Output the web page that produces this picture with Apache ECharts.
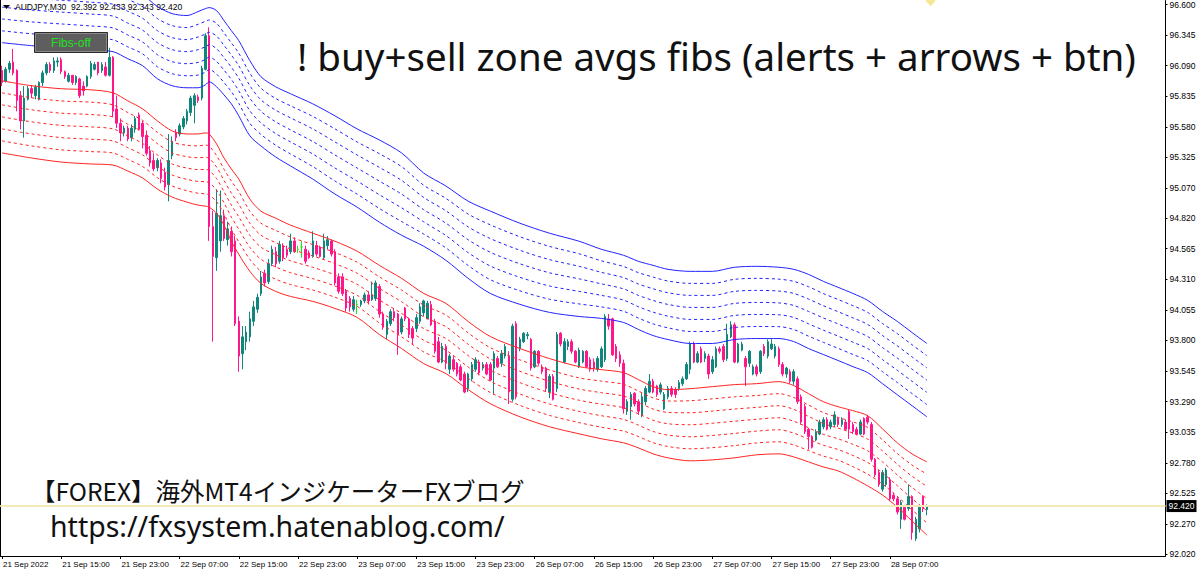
<!DOCTYPE html>
<html><head><meta charset="utf-8">
<script src="https://cdn.jsdelivr.net/npm/echarts@6/dist/echarts.min.js"></script>
<style>html,body{margin:0;padding:0;background:#fff;overflow:hidden}#c{width:1200px;height:574px}</style>
</head><body><div id="c"></div>
<script>
// ---------- data ----------
const timeLabels = ['21 Sep 2022','21 Sep 15:00','21 Sep 23:00','22 Sep 07:00','22 Sep 15:00','22 Sep 23:00','23 Sep 07:00','23 Sep 15:00','23 Sep 23:00','26 Sep 07:00','26 Sep 15:00','26 Sep 23:00','27 Sep 07:00','27 Sep 15:00','27 Sep 23:00','28 Sep 07:00'];
const priceTicks = [96.600,96.345,96.090,95.835,95.580,95.325,95.070,94.820,94.565,94.310,94.055,93.800,93.545,93.290,93.035,92.780,92.525,92.270,92.020];

const openP = [96.05,95.96,96.06,96.12,96.05,95.84,95.63,95.81,95.90,95.84,95.81,95.95,96.03,96.10,96.05,96.12,96.14,96.04,95.96,96.01,
95.95,95.98,95.92,95.92,96.00,96.06,96.12,96.05,96.08,96.01,96.16,95.73,95.61,95.53,95.57,95.49,95.56,95.68,95.61,95.51,
95.38,95.30,95.24,95.28,95.20,95.10,95.34,95.53,95.52,95.58,95.63,95.70,95.76,95.83,95.82,96.06,96.34,94.75,94.49,94.63,
94.84,94.64,94.71,94.63,93.96,93.69,93.79,93.83,93.96,94.06,94.19,94.36,94.29,94.44,94.54,94.46,94.59,94.56,94.54,94.63,
94.56,94.58,94.56,94.53,94.50,94.59,94.58,94.49,94.59,94.63,94.54,94.33,94.33,94.21,94.15,94.06,94.10,94.10,94.13,94.18,
94.14,94.15,94.25,94.02,93.85,93.94,94.04,94.02,93.87,94.07,93.98,93.90,93.90,93.96,94.03,93.98,94.10,93.96,93.79,93.62,
93.75,93.56,93.64,93.61,93.58,93.52,93.40,93.48,93.56,93.62,93.57,93.60,93.60,93.57,93.65,93.61,93.67,93.67,93.31,93.94,
93.73,93.79,93.84,93.81,93.58,93.71,93.58,93.57,93.37,93.50,93.40,93.86,93.62,93.75,93.79,93.71,93.58,93.62,93.71,93.64,
93.62,93.56,93.58,93.64,93.98,93.98,93.75,93.68,93.61,93.21,93.25,93.36,93.29,93.18,93.29,93.37,93.46,93.42,93.37,93.23,
93.33,93.40,93.39,93.40,93.44,93.48,93.56,93.77,93.62,93.73,93.65,93.67,93.54,93.58,93.73,93.75,93.65,93.83,93.93,93.62,
93.72,93.65,93.61,93.52,93.58,93.54,93.75,93.67,93.73,93.67,93.73,93.60,93.52,93.54,93.46,93.48,93.33,93.25,93.06,93.00,
92.97,93.02,93.08,93.14,93.08,93.10,93.15,93.10,93.12,93.21,93.10,93.06,93.02,93.15,93.16,93.10,92.81,92.70,92.56,92.60,
92.64,92.51,92.48,92.31,92.41,92.40,92.50,92.15,92.23,92.50,92.392];
const closeP = [95.95,96.06,96.11,96.03,95.80,95.63,95.82,95.90,95.86,95.91,95.95,96.03,96.10,96.05,96.13,96.13,96.04,96.00,96.01,95.95,
96.00,95.84,95.88,96.00,96.11,96.10,96.03,96.10,96.01,96.16,95.71,95.61,95.53,95.57,95.48,95.57,95.65,95.56,95.50,95.36,
95.28,95.23,95.30,95.15,95.08,95.30,95.46,95.49,95.59,95.65,95.71,95.82,95.84,95.80,96.07,96.34,94.75,94.50,94.86,94.84,
94.65,94.73,94.54,93.94,93.67,93.83,93.87,93.98,94.08,94.16,94.33,94.28,94.44,94.56,94.44,94.60,94.49,94.51,94.63,94.54,
94.56,94.58,94.46,94.49,94.63,94.52,94.50,94.63,94.64,94.52,94.28,94.21,94.19,94.07,94.08,94.14,94.10,94.13,94.18,94.13,
94.18,94.28,94.02,93.91,93.96,94.04,93.99,93.85,93.98,93.98,93.85,93.82,93.99,94.08,94.13,94.11,93.93,93.71,93.62,93.75,
93.61,93.67,93.56,93.52,93.47,93.37,93.52,93.60,93.64,93.53,93.60,93.52,93.47,93.69,93.58,93.69,93.75,93.37,93.92,93.33,
93.81,93.86,93.85,93.57,93.71,93.61,93.54,93.40,93.50,93.31,93.85,93.77,93.79,93.79,93.71,93.62,93.72,93.71,93.58,93.56,
93.57,93.65,93.73,94.00,93.92,93.68,93.65,93.61,93.23,93.29,93.35,93.27,93.21,93.33,93.40,93.46,93.37,93.35,93.43,93.35,
93.40,93.35,93.35,93.45,93.48,93.60,93.77,93.62,93.69,93.62,93.69,93.52,93.64,93.73,93.71,93.64,93.85,93.93,93.62,93.77,
93.77,93.58,93.71,93.58,93.52,93.71,93.69,93.79,93.77,93.75,93.60,93.52,93.57,93.46,93.54,93.29,93.12,93.04,93.00,92.91,
93.04,93.12,93.14,93.06,93.12,93.18,93.10,93.14,93.06,93.06,93.04,93.02,93.12,93.02,93.12,92.81,92.68,92.60,92.70,92.72,
92.48,92.48,92.37,92.45,92.31,92.50,92.20,92.31,92.41,92.40,92.420];
const highP = [96.09,96.08,96.13,96.23,96.06,95.88,95.92,95.92,95.93,95.93,95.96,96.05,96.12,96.12,96.16,96.16,96.16,96.05,96.03,96.01,
96.01,95.99,95.96,96.01,96.13,96.12,96.12,96.12,96.12,96.24,96.17,95.84,95.65,95.59,95.59,95.60,95.67,95.70,95.63,95.55,
95.42,95.36,95.32,95.31,95.24,95.52,95.50,95.56,95.61,95.67,95.73,95.84,95.86,95.85,96.09,96.36,96.41,94.88,95.06,95.05,
94.89,94.79,94.75,94.67,94.00,93.92,93.92,94.04,94.13,94.19,94.38,94.39,94.48,94.59,94.58,94.63,94.61,94.59,94.69,94.66,
94.59,94.63,94.59,94.55,94.71,94.63,94.59,94.69,94.67,94.64,94.56,94.36,94.36,94.23,94.17,94.17,94.14,94.14,94.20,94.21,
94.29,94.30,94.27,94.04,93.98,94.06,94.07,94.03,94.00,94.08,93.99,93.92,94.02,94.11,94.14,94.13,94.13,93.98,93.83,93.78,
93.77,93.69,93.67,93.62,93.60,93.54,93.53,93.62,93.66,93.64,93.62,93.62,93.62,93.71,93.67,93.72,93.77,93.71,93.94,93.96,
93.83,93.87,93.87,93.82,93.72,93.72,93.60,93.58,93.52,93.52,93.87,93.87,93.82,93.81,93.81,93.72,93.74,93.72,93.72,93.66,
93.65,93.67,93.75,94.02,94.02,93.99,93.77,93.71,93.64,93.31,93.37,93.37,93.31,93.36,93.42,93.52,93.48,93.43,93.45,93.37,
93.42,93.42,93.41,93.47,93.50,93.62,93.79,93.79,93.71,93.75,93.71,93.69,93.67,93.75,93.75,93.77,93.94,93.96,93.95,93.78,
93.79,93.67,93.72,93.60,93.60,93.72,93.77,93.81,93.81,93.77,93.75,93.62,93.58,93.56,93.56,93.50,93.35,93.27,93.07,93.01,
93.06,93.14,93.16,93.16,93.14,93.21,93.16,93.16,93.14,93.22,93.12,93.08,93.14,93.16,93.18,93.12,92.82,92.72,92.72,92.74,
92.66,92.53,92.50,92.47,92.43,92.60,92.51,92.33,92.43,92.51,92.433];
const lowP = [95.92,95.95,96.03,96.01,95.71,95.56,95.49,95.80,95.82,95.81,95.80,95.92,96.01,96.03,96.03,96.08,96.02,95.98,95.95,95.93,
95.93,95.82,95.84,95.91,95.98,96.05,96.01,96.03,96.00,96.00,95.66,95.57,95.46,95.50,95.46,95.46,95.53,95.55,95.40,95.34,
95.25,95.21,95.21,95.11,95.05,94.96,95.31,95.46,95.50,95.56,95.60,95.67,95.61,95.78,95.80,96.05,94.63,93.79,94.38,94.54,
94.63,94.59,94.50,93.92,93.54,93.56,93.72,93.79,93.92,94.03,94.17,94.25,94.27,94.42,94.41,94.44,94.46,94.49,94.52,94.53,
94.53,94.49,94.44,94.48,94.49,94.50,94.49,94.48,94.56,94.50,94.26,94.19,94.17,94.04,94.04,94.04,94.02,94.08,94.11,94.10,
94.13,94.13,93.99,93.89,93.81,93.92,93.96,93.68,93.85,93.96,93.82,93.77,93.87,93.94,94.00,93.98,93.92,93.69,93.61,93.61,
93.56,93.52,93.54,93.50,93.46,93.36,93.37,93.46,93.54,93.51,93.55,93.51,93.46,93.35,93.57,93.58,93.65,93.27,93.29,93.31,
93.71,93.78,93.81,93.55,93.57,93.59,93.52,93.37,93.32,93.30,93.37,93.75,93.61,93.72,93.69,93.61,93.57,93.61,93.57,93.54,
93.54,93.54,93.57,93.62,93.89,93.67,93.62,93.58,93.19,93.18,93.14,93.25,93.18,93.16,93.26,93.36,93.36,93.33,93.35,93.22,
93.31,93.33,93.32,93.38,93.42,93.47,93.52,93.61,93.61,93.61,93.62,93.48,93.52,93.57,93.69,93.62,93.63,93.82,93.61,93.61,
93.71,93.42,93.58,93.51,93.50,93.52,93.67,93.65,93.72,93.65,93.58,93.50,93.49,93.44,93.43,93.27,93.10,93.02,92.89,92.90,
92.96,93.01,93.06,93.05,93.06,93.08,93.08,93.08,93.05,92.98,93.02,93.01,93.01,93.01,93.10,92.79,92.66,92.58,92.54,92.58,
92.46,92.46,92.35,92.23,92.30,92.38,92.14,92.13,92.20,92.37,92.343];

// zone band edges, read at these bar indices
const bandIdx = [0,8,16,24,30,34,38,42,46,50,53,55,56,58,60,62,64,67,70,74,78,84,90,96,102,108,114,120,126,132,140,148,156,162,168,172,176,180,186,192,198,204,210,214,218,222,226,230,234,238,242,246,250];
const blueTop = [96.875,96.850,96.834,96.817,96.800,96.742,96.683,96.583,96.524,96.508,96.541,96.566,96.574,96.549,96.466,96.382,96.299,96.132,95.998,95.914,95.856,95.772,95.672,95.563,95.471,95.363,95.195,95.087,94.961,94.878,94.777,94.694,94.627,94.560,94.510,94.460,94.426,94.393,94.376,94.376,94.410,94.418,94.410,94.393,94.351,94.293,94.243,94.192,94.134,94.042,93.959,93.866,93.775];
const blueBottom = [96.282,96.257,96.240,96.223,96.207,96.148,96.090,95.981,95.923,95.906,95.906,95.931,95.956,95.914,95.847,95.772,95.672,95.505,95.421,95.329,95.254,95.145,95.020,94.911,94.786,94.677,94.585,94.468,94.318,94.192,94.101,94.034,94.000,93.984,93.950,93.892,93.841,93.808,93.775,93.775,93.808,93.816,93.816,93.791,93.733,93.683,93.633,93.582,93.532,93.440,93.348,93.256,93.164];
const redTop = [95.964,95.923,95.898,95.889,95.864,95.797,95.730,95.630,95.546,95.521,95.521,95.530,95.521,95.438,95.321,95.229,95.145,94.978,94.878,94.819,94.761,94.694,94.627,94.544,94.426,94.318,94.192,94.109,93.958,93.833,93.733,93.649,93.582,93.557,93.532,93.474,93.415,93.390,93.398,93.415,93.432,93.440,93.457,93.424,93.357,93.290,93.248,93.215,93.173,93.064,92.947,92.855,92.788];
const redBottom = [95.363,95.321,95.287,95.271,95.262,95.212,95.154,95.062,94.995,94.953,94.928,94.920,94.911,94.861,94.761,94.627,94.518,94.376,94.276,94.209,94.167,94.126,94.067,93.992,93.850,93.733,93.607,93.524,93.390,93.273,93.164,93.081,93.022,92.981,92.947,92.905,92.855,92.822,92.797,92.805,92.822,92.847,92.855,92.830,92.788,92.746,92.713,92.655,92.588,92.512,92.412,92.295,92.178];
const fibRatios = [1/6, 2/6, 3/6, 4/6, 5/6];
const lastPrice = 92.420;
const arrowMark = [[251, 96.632]];

const headerText = 'AUDJPY,M30  92.392 92.433 92.343 92.420';
const titleText = '! buy+sell zone avgs fibs (alerts + arrows + btn)';
const blogText = '【FOREX】海外MT4インジケーターFXブログ';
const urlText = 'https://fxsystem.hatenablog.com/';
const buttonText = 'Fibs-off';

// ---------- build ----------
const N = 315;
const categories = Array.from({length: N}, (_, i) => (i % 16 === 0 && i / 16 < timeLabels.length) ? timeLabels[i / 16] : '');
const candles = openP.map((o, i) => [o, closeP[i], lowP[i], highP[i]]);
const pairs = arr => bandIdx.map((b, k) => [b, arr[k]]);
const fibPairs = (top, bot, r) => bandIdx.map((b, k) => [b, top[k] + (bot[k] - top[k]) * r]);
const showTime = (i) => i % 16 === 0 && i / 16 < timeLabels.length;

const BLUE = '#2323ff', RED = '#ff2323';
const lineBase = {type: 'line', symbol: 'none', silent: true, smooth: 0.3, z: 3, animation: false};
const series = [{
  type: 'candlestick', data: candles, barWidth: 2, silent: true, z: 2,
  itemStyle: {color: '#11867c', color0: '#ff168e', borderColor: '#11867c', borderColor0: '#ff168e', borderColorDoji: '#19e619', borderWidth: 1},
  markLine: {
    silent: true, symbol: 'none', animation: false,
    data: [{yAxis: lastPrice}],
    lineStyle: {color: '#f2e9b6', width: 2, type: 'solid'},
    label: {show: true, position: 'end', distance: 1, formatter: lastPrice.toFixed(3), color: '#fff', backgroundColor: '#000',
            fontFamily: 'Liberation Sans', fontSize: 8.5, padding: [2, 2, 1, 2]}
  }
}];
[[blueTop, blueBottom, BLUE], [redTop, redBottom, RED]].forEach(([t, b, col]) => {
  series.push(Object.assign({}, lineBase, {data: pairs(t), lineStyle: {color: col, width: 1}}));
  fibRatios.forEach(r => series.push(Object.assign({}, lineBase, {data: fibPairs(t, b, r), lineStyle: {color: col, width: 1, type: [3, 3]}})));
  series.push(Object.assign({}, lineBase, {data: pairs(b), lineStyle: {color: col, width: 1}}));
});
series.push({type: 'scatter', data: arrowMark, symbol: 'diamond', symbolSize: [10, 11], silent: true,
  itemStyle: {color: '#f4e07c'}, z: 4});

const chart = echarts.init(document.getElementById('c'), null, {renderer: 'svg'});
chart.setOption({
  animation: false,
  backgroundColor: '#fff',
  grid: {left: 0, right: 34.5, top: 0, bottom: 18, containLabel: false},
  xAxis: {
    type: 'category', data: categories, boundaryGap: true,
    axisLine: {show: true, lineStyle: {color: '#000', width: 1}},
    axisTick: {show: true, alignWithLabel: true, interval: showTime, length: 3, lineStyle: {color: '#000'}},
    axisLabel: {interval: showTime, align: 'left', fontFamily: 'Liberation Sans', fontSize: 8, color: '#000', margin: 4, padding: [0, 0, 0, 1]},
    splitLine: {show: false}
  },
  yAxis: {
    type: 'value', position: 'right', min: 92.0038, max: 96.6333,
    axisLine: {show: true, lineStyle: {color: '#000', width: 1}},
    axisTick: {show: true, length: 2, customValues: priceTicks, lineStyle: {color: '#000'}},
    axisLabel: {customValues: priceTicks, formatter: v => v.toFixed(3), fontFamily: 'Liberation Sans', fontSize: 8.5, color: '#000', margin: 4},
    splitLine: {show: false}
  },
  series: series,
  graphic: [
    {type: 'line', shape: {x1: 0.5, y1: 0, x2: 0.5, y2: 556}, style: {stroke: '#000', lineWidth: 1}, silent: true},
    {type: 'polygon', shape: {points: [[3, 5], [10, 5], [6.5, 9]]}, style: {fill: '#000'}, silent: true},
    {type: 'text', x: 15, y: 7, style: {text: headerText, fontFamily: 'Liberation Sans', fontSize: 8.5, fill: '#000', textVerticalAlign: 'middle'}, silent: true},
    {type: 'rect', shape: {x: 34.5, y: 32.5, width: 73, height: 20}, style: {fill: '#5e5e5e', stroke: '#2b2b2b', lineWidth: 1}, silent: true, z: 50},
    {type: 'rect', shape: {x: 35.5, y: 33.5, width: 71, height: 18}, style: {fill: 'none', stroke: '#8a8a8a', lineWidth: 1}, silent: true, z: 51},
    {type: 'text', x: 71, y: 43, style: {text: buttonText, fontFamily: 'Liberation Sans', fontSize: 12, fill: '#22e022', textAlign: 'center', textVerticalAlign: 'middle'}, silent: true, z: 52},
    {type: 'text', x: 297, y: 56, style: {text: titleText, fontFamily: 'Noto Sans, Noto Sans CJK JP', fontSize: 38.5, fill: '#111', textVerticalAlign: 'middle'}, silent: true, z: 60},
    {type: 'text', x: 31, y: 490, style: {text: blogText, fontFamily: 'Noto Sans CJK JP', fontSize: 24.5, lineHeight: 25, fill: '#111', textVerticalAlign: 'middle'}, silent: true, z: 60},
    {type: 'text', x: 50, y: 525.5, style: {text: urlText, fontFamily: 'Noto Sans, Noto Sans CJK JP', fontSize: 28.5, lineHeight: 29, fill: '#111', textVerticalAlign: 'middle'}, silent: true, z: 60}
  ]
});
</script>
</body></html>
